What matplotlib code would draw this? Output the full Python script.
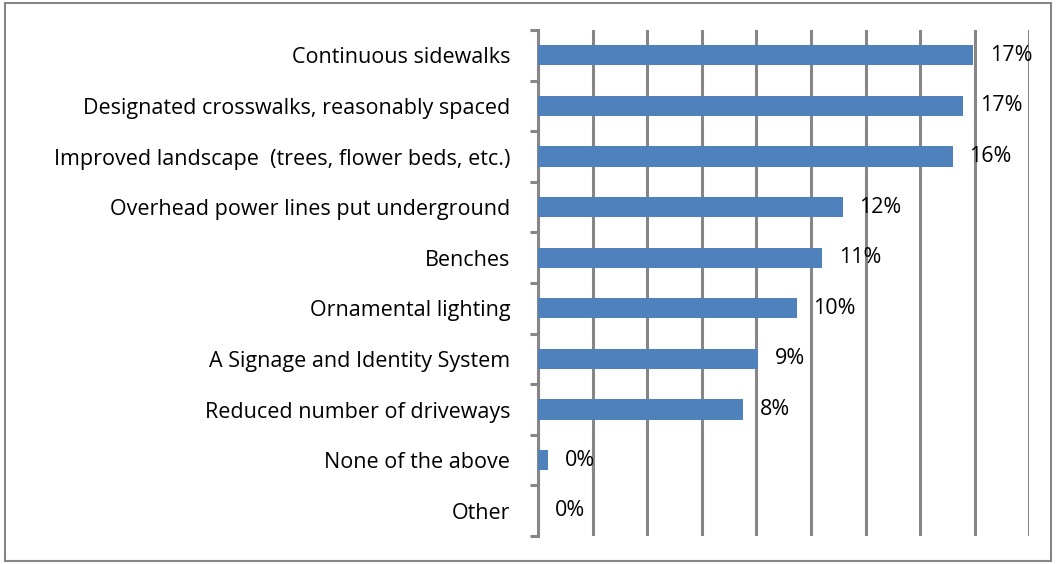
import matplotlib.pyplot as plt
from matplotlib.patches import Rectangle
from matplotlib.ticker import FixedLocator
import numpy as np

# survey answers, percent of respondents
categories = ['Continuous sidewalks',
              'Designated crosswalks, reasonably spaced',
              'Improved landscape  (trees, flower beds, etc.)',
              'Overhead power lines put underground',
              'Benches',
              'Ornamental lighting',
              'A Signage and Identity System',
              'Reduced number of driveways',
              'None of the above',
              'Other']
values = [17.0, 16.6, 16.2, 11.9, 11.1, 10.1, 8.6, 8.0, 0.4, 0.0]

grid_col = '#868686'
bar_col = '#4F81BD'

plt.rcParams['font.family'] = ['Open Sans', 'DejaVu Sans']

fig = plt.figure(figsize=(10.58, 5.64), dpi=100)
ax = fig.add_axes([0.5085, 0.0496, 0.4645, 0.8972])

y = np.arange(len(categories))
ax.barh(y, values, height=0.4, color=bar_col, zorder=3)

for yi, v in zip(y, values):
    ax.annotate(f'{round(v):d}%', (v, yi), xytext=(12, 0), textcoords='offset points',
                va='center', ha='left', fontsize=15.5, zorder=4)

xmax = 19.2
ax.set_xlim(0, xmax)
ax.set_ylim(len(categories) - 0.5, -0.5)

ax.xaxis.set_major_locator(FixedLocator(np.linspace(0, xmax, 10)))
ax.grid(axis='x', color=grid_col, linewidth=2.2, zorder=0)
ax.tick_params(axis='x', bottom=False, labelbottom=False)

# category labels in the middle, tick marks on the boundaries
ax.set_yticks(y)
ax.set_yticklabels(categories, fontsize=15.5)
ax.yaxis.set_minor_locator(FixedLocator(np.arange(-0.5, len(categories), 1)))
ax.tick_params(axis='y', which='major', length=0, pad=20)
ax.tick_params(axis='y', which='minor', length=6, width=2.2, color=grid_col)

for s in ['top', 'right', 'bottom']:
    ax.spines[s].set_visible(False)
ax.spines['left'].set_color(grid_col)
ax.spines['left'].set_linewidth(2.2)

fig.patches.append(Rectangle((5 / 1058, 3 / 564), 1046 / 1058, 558 / 564,
                             transform=fig.transFigure, fill=False,
                             edgecolor=grid_col, linewidth=1.5))

fig.savefig('out.png', dpi=100)
